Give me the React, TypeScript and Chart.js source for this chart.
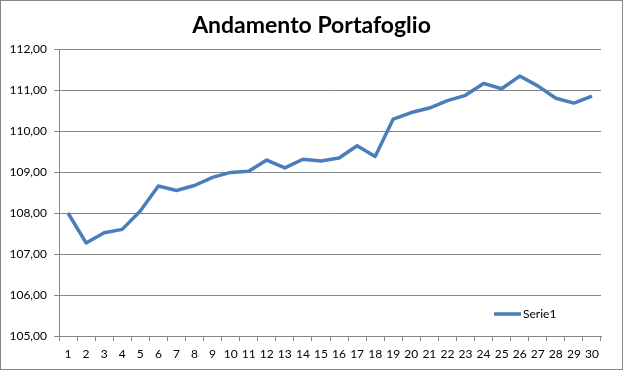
import React, { useEffect, useRef } from "react";
import { Chart, registerables } from "chart.js";

Chart.register(...registerables);

const TITLE = "Andamento Portafoglio";
const SERIES_NAME = "Serie1";
const categories = Array.from({ length: 30 }, (_, i) => String(i + 1));
const values = [
  108.0, 107.27, 107.52, 107.6, 108.05, 108.66, 108.55, 108.67, 108.87, 108.99,
  109.02, 109.29, 109.1, 109.31, 109.27, 109.34, 109.64, 109.38, 110.29, 110.45,
  110.56, 110.74, 110.87, 111.16, 111.03, 111.34, 111.1, 110.8, 110.68, 110.85,
];
const yMin = 105;
const yMax = 112;
const yStep = 1;

const LINE_COLOR = "#4A7EBB";
const GRID_COLOR = "#878787";
const FONT = "Lato, 'Open Sans', 'DejaVu Sans', sans-serif";

const titlePlugin = {
  id: "centeredTitle",
  afterDraw(chart: any) {
    const { ctx, width } = chart;
    ctx.save();
    ctx.fillStyle = "#000";
    ctx.font = `bold 23px ${FONT}`;
    ctx.textAlign = "center";
    ctx.textBaseline = "middle";
    ctx.fillText(TITLE, width / 2, 26);
    ctx.restore();
  },
};

const legendPlugin = {
  id: "insideLegend",
  afterDraw(chart: any) {
    const { ctx, chartArea } = chart;
    const x0 = chartArea.right - 107;
    const y0 = chartArea.bottom - 22;
    ctx.save();
    ctx.strokeStyle = LINE_COLOR;
    ctx.lineWidth = 3.5;
    ctx.lineCap = "butt";
    ctx.beginPath();
    ctx.moveTo(x0, y0);
    ctx.lineTo(x0 + 27, y0);
    ctx.stroke();
    ctx.fillStyle = "#000";
    ctx.font = `12px ${FONT}`;
    ctx.textBaseline = "middle";
    ctx.textAlign = "left";
    ctx.fillText(chart.data.datasets[0].label, x0 + 29, y0);
    ctx.restore();
  },
};

export default function App() {
  const ref = useRef<HTMLCanvasElement>(null);
  useEffect(() => {
    document.body.style.margin = "0";
    const chart = new Chart(ref.current!, {
      type: "line",
      data: {
        labels: categories,
        datasets: [
          {
            label: SERIES_NAME,
            data: values,
            borderColor: LINE_COLOR,
            backgroundColor: LINE_COLOR,
            borderWidth: 3.5,
            pointRadius: 0,
            tension: 0,
            borderJoinStyle: "round",
          },
        ],
      },
      plugins: [titlePlugin, legendPlugin],
      options: {
        animation: false,
        responsive: false,
        maintainAspectRatio: false,
        layout: { padding: { left: 0, right: 22, top: 49, bottom: 0 } },
        plugins: {
          legend: { display: false },
          tooltip: { enabled: false },
          title: { display: false },
        },
        scales: {
          x: {
            type: "category",
            offset: true,
            grid: {
              display: true,
              offset: true,
              drawOnChartArea: false,
              drawTicks: true,
              tickLength: 5,
              color: GRID_COLOR,
            },
            border: { display: true, color: GRID_COLOR, width: 1 },
            ticks: {
              color: "#000",
              font: { family: FONT, size: 12 },
              padding: 6,
              maxRotation: 0,
              autoSkip: false,
            },
            afterFit(scale: any) {
              scale.height = 34;
            },
          },
          y: {
            min: yMin,
            max: yMax,
            grid: { color: GRID_COLOR, tickLength: 5, lineWidth: 1 },
            border: { display: true, color: GRID_COLOR, width: 1 },
            ticks: {
              stepSize: yStep,
              color: "#000",
              font: { family: FONT, size: 12 },
              padding: 7,
              callback: (v: any) => Number(v).toFixed(2).replace(".", ","),
            },
            afterFit(scale: any) {
              scale.width = 59;
            },
          },
        },
      },
    } as any);
    return () => chart.destroy();
  }, []);
  return (
    <div style={{ position: "fixed", left: 0, top: 0, width: 623, height: 370, background: "#fff" }}>
      <canvas ref={ref} width={623} height={370} style={{ position: "absolute", left: 0, top: 0 }} />
      <div
        style={{
          position: "absolute",
          left: 0,
          top: 0,
          width: 623,
          height: 370,
          boxSizing: "border-box",
          border: "1px solid #868686",
          pointerEvents: "none",
        }}
      />
    </div>
  );
}
